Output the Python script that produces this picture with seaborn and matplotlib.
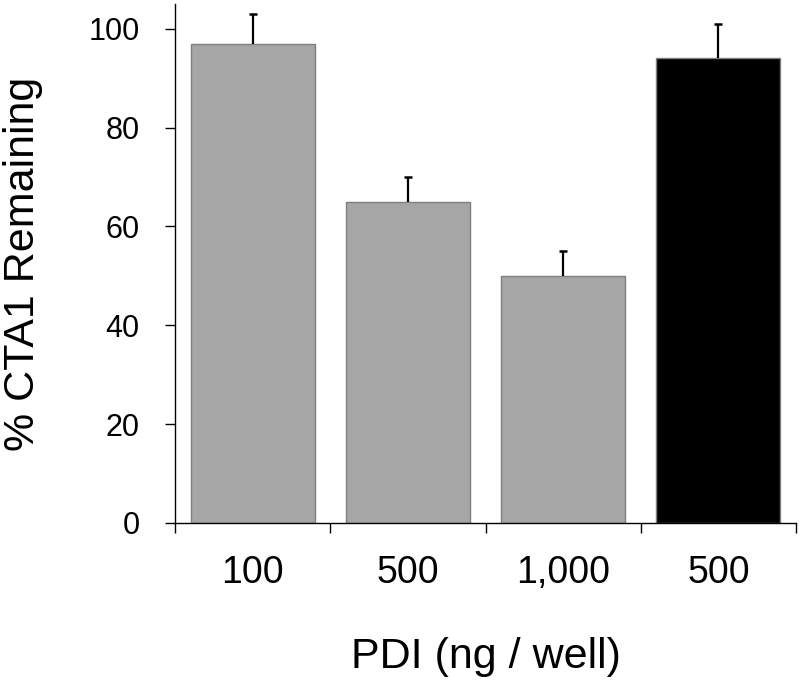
import pandas as pd
import numpy as np
import matplotlib
matplotlib.use("Agg")
import matplotlib.pyplot as plt
import seaborn as sns

# data
labels = ["100", "500", "1,000", "500"]
values = [97, 65, 50, 94]
errors = [6, 5, 5, 7]
bar_colors = ["#a6a6a6", "#a6a6a6", "#a6a6a6", "#000000"]

def main():
    sns.set_theme(style="white")
    plt.rcParams["font.family"] = ["Liberation Sans", "DejaVu Sans"]

    df = pd.DataFrame({"pos": range(len(labels)), "value": values, "err": errors})
    df["top"] = df["value"] + df["err"]

    fig = plt.figure(figsize=(8, 6.85), dpi=100)
    ax = fig.add_axes([0.219, 0.2365, 0.776, 0.7575])

    sns.barplot(data=df, x="pos", y="value", hue="pos", palette=bar_colors,
                legend=False, width=0.8, edgecolor="#7f7f7f", linewidth=1.0,
                errorbar=None, saturation=1, ax=ax)

    # upper error bars only: stem + cap at the top
    ax.vlines(df["pos"], df["value"], df["top"], color="black", linewidth=1.6, zorder=1)
    ax.plot(df["pos"], df["top"], linestyle="none", marker="_", markersize=6,
            markeredgewidth=1.8, color="black")

    ax.set_ylim(0, 105)
    ax.set_xlim(-0.5, len(labels) - 0.5)
    ax.set_yticks([0, 20, 40, 60, 80, 100])

    ax.set_xticks(range(len(labels)))
    ax.set_xticklabels(labels)
    ax.set_xticks(np.arange(-0.5, len(labels), 1.0), minor=True)
    ax.tick_params(axis="x", which="major", length=0, pad=23, labelsize=27, colors="black")
    ax.tick_params(axis="x", which="minor", bottom=True, length=7.5, width=1.0, color="black")
    ax.tick_params(axis="y", which="major", left=True, length=7.5, width=1.0, pad=18,
                   labelsize=22, colors="black")

    for s in ["top", "right"]:
        ax.spines[s].set_visible(False)
    for s in ["left", "bottom"]:
        ax.spines[s].set_color("black")
        ax.spines[s].set_linewidth(1.0)

    ax.set_xlabel("PDI (ng / well)", fontsize=31, labelpad=33, color="black")
    ax.set_ylabel("% CTA1 Remaining", fontsize=31, labelpad=33, color="black")

    fig.savefig("out.png", dpi=100)

if __name__ == "__main__":
    main()
